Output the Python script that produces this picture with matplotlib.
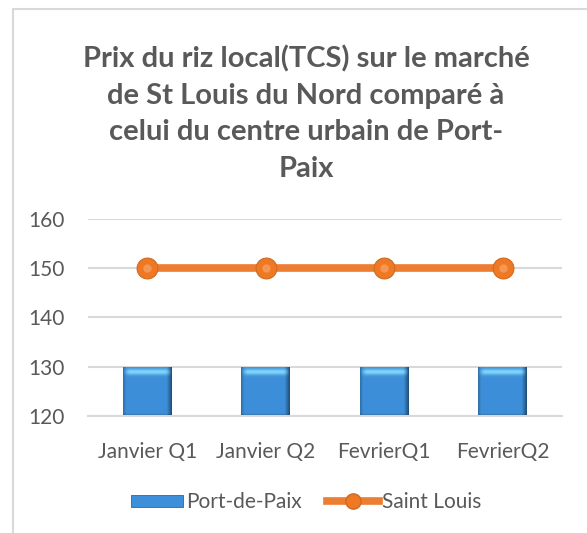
import numpy as np
import matplotlib.pyplot as plt
from matplotlib.patches import Rectangle
from matplotlib.lines import Line2D

# donnees
categories = ['Janvier Q1', 'Janvier Q2', 'FevrierQ1', 'FevrierQ2']
port_de_paix = [130, 130, 130, 130]
saint_louis = [150, 150, 150, 150]
y_ticks = [120, 130, 140, 150, 160]
titre = "Prix du riz local(TCS) sur le marché\nde St Louis du Nord comparé à\ncelui du centre urbain de Port-\nPaix"

plt.rcParams['font.family'] = ['Lato', 'DejaVu Sans']
gris = '#595959'
bleu = '#3D8FD9'
orange = '#ED7D31'

fig = plt.figure(figsize=(5.87, 5.33), dpi=100)
W, H = 587, 533

# cadre du graphique (coupe a droite et en bas)
fig.patches.append(Rectangle((13 / W, -0.5), 2, 1.5 - 9 / H, transform=fig.transFigure,
                             fill=False, edgecolor='#D9D9D9', linewidth=1.5))

ax = fig.add_axes([88 / W, (H - 416) / H, (562 - 88) / W, (416 - 219) / H])
x = list(range(len(categories)))

bars = ax.bar(x, [v - 120 for v in port_de_paix], bottom=120, width=0.41,
              color=bleu, edgecolor='none', zorder=2)

# effet de relief des barres (image rgb)
n = 60
u = np.linspace(0, 1, n)[None, :, None]
v = np.linspace(0, 1, n)[:, None, None]
base = np.array([0.24, 0.56, 0.85])[None, None, :]
clair = np.array([0.50, 0.84, 0.98])[None, None, :]
img = base * np.ones((n, n, 3))
fx = 1 - 0.22 * np.clip((0.06 - u) / 0.06, 0, 1) - 0.45 * np.clip((u - 0.9) / 0.1, 0, 1)
img = img * fx
band = np.exp(-((v - 0.89) / 0.06) ** 2) * np.clip(np.minimum(u, 1 - u) / 0.12, 0, 1)
img = img * (1 - band) + clair * band
img = img * (1 - 0.35 * np.clip((0.04 - v) / 0.04, 0, 1))
img = np.clip(img, 0, 1)
for b in bars:
    bx, by = b.get_x(), b.get_y()
    bw, bh = b.get_width(), b.get_height()
    im = ax.imshow(img, extent=[bx, bx + bw, by, by + bh],
                   aspect='auto', origin='lower', zorder=2.5)
    im.set_clip_path(b)

ax.plot(x, saint_louis, color=orange, linewidth=5.5, marker='o',
        markersize=15, markerfacecolor='#EE7823', markeredgecolor='#D06A20',
        markeredgewidth=0.8, zorder=3, clip_on=False)
ax.plot(x, saint_louis, linestyle='none', marker='o', markersize=6,
        markerfacecolor='#F6A062', markeredgecolor='none', alpha=0.8, zorder=3.1)

ax.set_ylim(120, 160)
ax.set_yticks(y_ticks)
ax.set_xlim(-0.5, len(categories) - 0.5)
ax.set_xticks(x)
ax.set_xticklabels(categories)
ax.tick_params(axis='both', length=0, labelsize=15, colors=gris)
ax.tick_params(axis='x', pad=19)
ax.tick_params(axis='y', pad=17)
ax.grid(axis='y', color='#D9D9D9', linewidth=1.5, zorder=0)
for s in ['top', 'right', 'left']:
    ax.spines[s].set_visible(False)
ax.spines['bottom'].set_color('#D9D9D9')
ax.spines['bottom'].set_linewidth(1.5)

fig.text(306 / W, 1 - 45 / H, titre, ha='center', va='top', fontsize=21,
         fontweight='bold', color=gris, linespacing=1.5)

handles = [Rectangle((0, 0), 1, 1, facecolor=bleu, edgecolor='#2A679F', linewidth=0.6),
           Line2D([], [], color=orange, linewidth=5.5, marker='o', markersize=11,
                  markerfacecolor='#EE7823', markeredgecolor='#D06A20')]
fig.legend(handles, ['Port-de-Paix', 'Saint Louis'], loc='center',
           bbox_to_anchor=(306 / W, 1 - 502 / H), ncol=2, frameon=False,
           fontsize=15, labelcolor=gris, handlelength=2.5, handleheight=0.5,
           handletextpad=0.15, columnspacing=1.2)

fig.savefig('out.png', dpi=100)
